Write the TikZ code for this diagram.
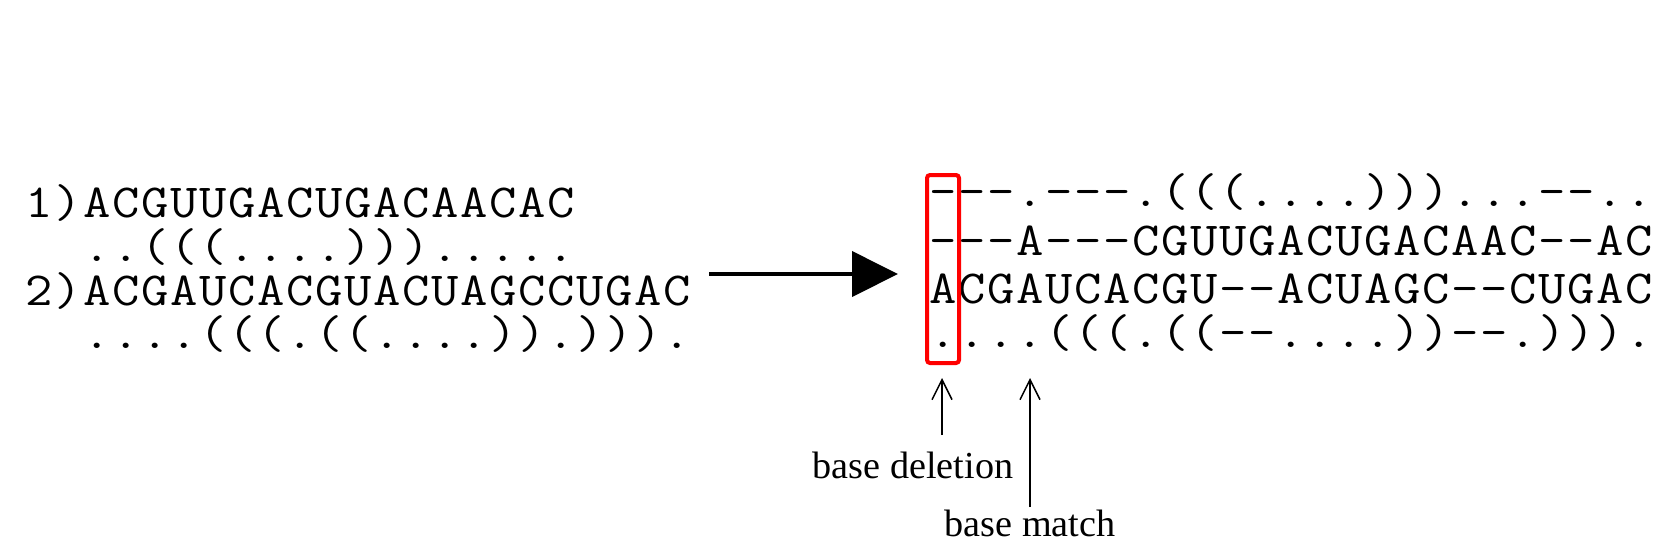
\documentclass[tikz,border=0pt]{standalone}
\usepackage{fontspec}
\setmainfont{Liberation Serif}
\newfontfamily\seqfont[FakeStretch=1.12]{Latin Modern Mono}
\usetikzlibrary{arrows.meta}

% one fixed-pitch cell per letter, as in the alignment printout
\newcommand\seqcell[1]{\makebox[14.5pt]{\ifx#1-\textendash\else#1\fi}}
\newcommand\seqtext[1]{\seqloop#1\relax}
\def\seqloop#1{\ifx#1\relax\else\seqcell{#1}\expandafter\seqloop\fi}

\begin{document}
\begin{tikzpicture}[
    x=0.5pt, y=-0.5pt,
    seq/.style={anchor=base west, inner sep=0pt, font=\seqfont\fontsize{23.7pt}{29pt}\selectfont},
    note/.style={anchor=base, inner sep=0pt, font=\fontsize{19.1pt}{23pt}\selectfont},
    delbox/.style={draw=red, line width=2pt, rounded corners=1.5pt, inner sep=0pt, minimum width=16pt, minimum height=94pt},
    arrow/.style={-{Triangle[length=23pt,width=22.5pt]}, line width=2pt},
    pointer/.style={-{Straight Barb[length=10pt,width=10pt]}, line width=0.75pt}
]
\useasboundingbox (0,0) rectangle (1669,558);

% input sequences with their structures
\node[seq] (seqA) at (24,217) {\seqtext{1)ACGUUGACUGACAACAC}};
\node[seq] (strA) at (82,261) {\seqtext{..(((....))).....}};
\node[seq] (seqB) at (24,305) {\seqtext{2)ACGAUCACGUACUAGCCUGAC}};
\node[seq] (strB) at (82,348) {\seqtext{....(((.((....)).))).}};

% aligned result
\node[seq] (alstrA) at (928,206) {\seqtext{---.---.(((....)))...--..}};
\node[seq] (alseqA) at (928,255) {\seqtext{---A---CGUUGACUGACAAC--AC}};
\node[seq] (alseqB) at (928,303) {\seqtext{ACGAUCACGU--ACUAGC--CUGAC}};
\node[seq] (alstrB) at (928,347) {\seqtext{....(((.((--....))--.))).}};

\node[delbox] (del) at (943,269) {};

% main arrow
\coordinate (arrin) at (709,274);
\coordinate (arrout) at (898,274);
\draw[arrow] (arrin) -- (arrout);

% pointers to columns
\node[note] (dellab) at (913,478) {base deletion};
\node[note] (matchlab) at (1030,536) {base match};
\coordinate (deltail) at (942,435);
\coordinate (deltip) at (942,378);
\coordinate (matchtail) at (1030,507);
\coordinate (matchtip) at (1030,378);
\draw[pointer] (deltail) -- (deltip);
\draw[pointer] (matchtail) -- (matchtip);
\end{tikzpicture}
\end{document}
